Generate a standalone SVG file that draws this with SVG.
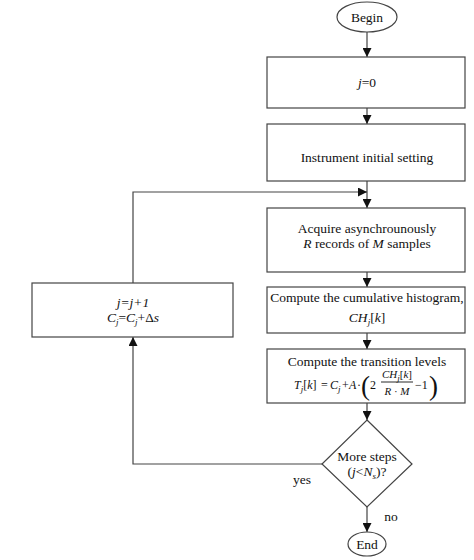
<svg xmlns="http://www.w3.org/2000/svg" width="474" height="560" viewBox="0 0 474 560">
<defs>
<marker id="ah" viewBox="0 0 10 10" refX="10" refY="5" markerWidth="9" markerHeight="9" markerUnits="userSpaceOnUse" orient="auto">
<path d="M0,0 L10,5 L0,10 z" fill="#111"/>
</marker>
<style>
.s{fill:#fff;stroke:#444;stroke-width:1.2}
.c{fill:none;stroke:#444;stroke-width:1.2}
text{font-family:"Liberation Serif","Times New Roman",serif;font-size:13.5px;fill:#111}
.m{text-anchor:middle}
.i{font-style:italic}
.sb{font-size:9px}
.f{font-size:12px}
.p{font-size:27px}
</style>
</defs>
<rect width="474" height="560" fill="#fff"/>
<g id="connectors">
<line class="c" x1="367" y1="32" x2="367" y2="57" marker-end="url(#ah)"/>
<line class="c" x1="367" y1="108" x2="367" y2="124" marker-end="url(#ah)"/>
<line class="c" x1="367" y1="181" x2="367" y2="208" marker-end="url(#ah)"/>
<polyline class="c" points="133,283 133,192 367,192" marker-end="url(#ah)"/>
<line class="c" x1="367" y1="272" x2="367" y2="287" marker-end="url(#ah)"/>
<line class="c" x1="367" y1="333" x2="367" y2="349" marker-end="url(#ah)"/>
<line class="c" x1="367" y1="403" x2="367" y2="420" marker-end="url(#ah)"/>
<polyline class="c" points="323,464 133,464 133,337" marker-end="url(#ah)"/>
<line class="c" x1="367" y1="507" x2="367" y2="532" marker-end="url(#ah)"/>
<text x="302" y="484" class="m">yes</text>
<text x="391" y="521" class="m">no</text>
</g>
<g id="begin">
<ellipse class="s" cx="367" cy="17" rx="30" ry="15"/>
<text x="367" y="22" class="m">Begin</text>
</g>
<g id="init-j">
<rect class="s" x="267" y="57" width="198" height="51"/>
<text x="367" y="87" class="m"><tspan class="i">j</tspan>=0</text>
</g>
<g id="instrument">
<rect class="s" x="267" y="124" width="198" height="57"/>
<text x="367" y="162" class="m">Instrument initial setting</text>
</g>
<g id="acquire">
<rect class="s" x="267" y="208" width="198" height="64"/>
<text x="367" y="233" class="m">Acquire asynchrounously</text>
<text x="367" y="248" class="m"><tspan class="i">R</tspan> records of <tspan class="i">M</tspan> samples</text>
</g>
<g id="histogram">
<rect class="s" x="267" y="287" width="198" height="46"/>
<text x="367" y="302" class="m">Compute the cumulative histogram,</text>
<text x="367" y="322" class="m"><tspan class="i">CH</tspan><tspan class="i sb" dy="3">j</tspan><tspan dy="-3">[</tspan><tspan class="i">k</tspan>]</text>
</g>
<g id="transition">
<rect class="s" x="267" y="349" width="198" height="54"/>
<text x="367" y="366" class="m">Compute the transition levels</text>
<text x="294" y="389" class="f"><tspan class="i">T</tspan><tspan class="i sb" dy="3">j</tspan><tspan dy="-3">[</tspan><tspan class="i">k</tspan>]</text>
<text x="321" y="389" class="f">=</text>
<text x="330" y="389" class="f"><tspan class="i">C</tspan><tspan class="i sb" dy="3">j</tspan></text>
<text x="342" y="389" class="f">+</text>
<text x="349" y="389" class="f i">A</text>
<text x="357" y="389" class="f">·</text>
<text x="361" y="395" class="p">(</text>
<text x="370" y="389" class="f">2</text>
<text x="397" y="378" class="m" style="font-size:11px"><tspan class="i">CH</tspan><tspan class="i sb" dy="3">j</tspan><tspan dy="-3">[</tspan><tspan class="i">k</tspan>]</text>
<line x1="381" y1="382" x2="413" y2="382" stroke="#111" stroke-width="0.9"/>
<text x="397" y="395" class="m" style="font-size:11px"><tspan class="i">R</tspan> · <tspan class="i">M</tspan></text>
<text x="415" y="389" class="f">−1</text>
<text x="429" y="395" class="p">)</text>
</g>
<g id="more-steps">
<polygon class="s" points="367,420 412,464 367,507 322,464"/>
<text x="367" y="461" class="m">More steps</text>
<text x="367" y="476" class="m">(<tspan class="i">j</tspan>&lt;<tspan class="i">N</tspan><tspan class="i sb" dy="3">s</tspan><tspan dy="-3">)?</tspan></text>
</g>
<g id="increment">
<rect class="s" x="32" y="283" width="201" height="54"/>
<text x="133" y="307" class="m i">j=j+1</text>
<text x="133" y="322" class="m"><tspan class="i">C</tspan><tspan class="i sb" dy="3">j</tspan><tspan dy="-3">=</tspan><tspan class="i">C</tspan><tspan class="i sb" dy="3">j</tspan><tspan dy="-3">+Δ</tspan><tspan class="i">s</tspan></text>
</g>
<g id="end">
<ellipse class="s" cx="367" cy="544" rx="19" ry="12"/>
<text x="367" y="549" class="m">End</text>
</g>
</svg>
